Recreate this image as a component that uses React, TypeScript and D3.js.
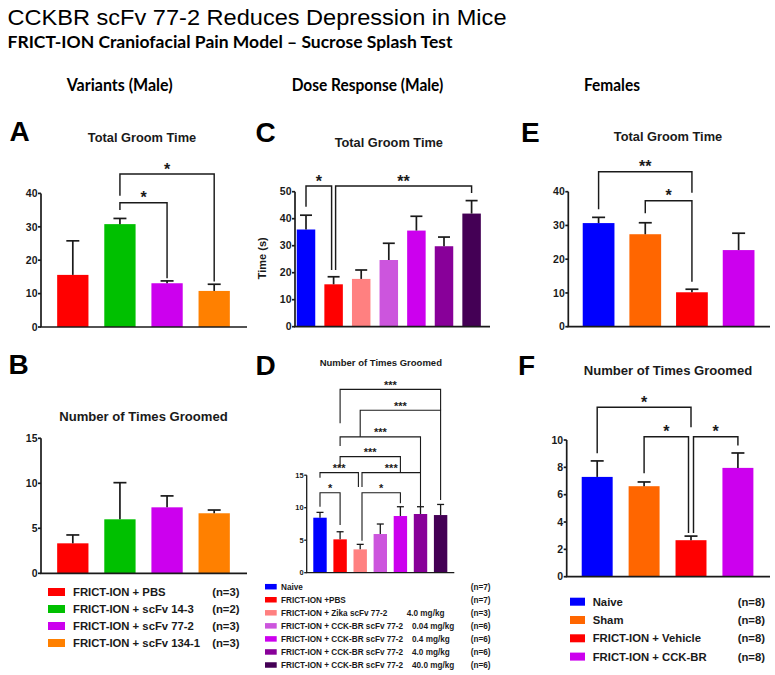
import React from "react";
import * as d3 from "d3";

// ---------------- Data ----------------
const variantGroups = ["FRICT-ION + PBS", "FRICT-ION + scFv 14-3", "FRICT-ION + scFv 77-2", "FRICT-ION + scFv 134-1"];
const variantN = ["(n=3)", "(n=2)", "(n=3)", "(n=3)"];
const variantColors = ["#ff0000", "#00c000", "#cc00ee", "#ff8000"];
const variantGroomTime = [15.6, 30.8, 13.1, 10.8];
const variantGroomTimeSem = [10.2, 1.7, 0.7, 2.0];
const variantGroomCount = [3.33, 6.0, 7.33, 6.67];
const variantGroomCountSem = [0.93, 4.07, 1.27, 0.36];

const doseGroups = [
  "Naive",
  "FRICT-ION +PBS",
  "FRICT-ION + Zika scFv 77-2",
  "FRICT-ION + CCK-BR scFv 77-2",
  "FRICT-ION + CCK-BR scFv 77-2",
  "FRICT-ION + CCK-BR scFv 77-2",
  "FRICT-ION + CCK-BR scFv 77-2",
];
const doseAmounts = ["", "", "4.0 mg/kg", "0.04 mg/kg", "0.4 mg/kg", "4.0 mg/kg", "40.0 mg/kg"];
const doseN = ["(n=7)", "(n=7)", "(n=3)", "(n=6)", "(n=6)", "(n=6)", "(n=6)"];
const doseColors = ["#0000ff", "#ff0000", "#ff8080", "#cc55dd", "#cc00ee", "#880099", "#440055"];
const doseGroomTime = [36.0, 15.7, 17.7, 24.7, 35.6, 29.8, 41.9];
const doseGroomTimeSem = [5.3, 2.8, 3.3, 6.2, 5.3, 3.4, 4.8];
const doseGroomCount = [8.46, 5.13, 3.59, 5.95, 8.72, 9.03, 8.87];
const doseGroomCountSem = [0.82, 1.17, 0.77, 1.54, 1.43, 1.12, 1.63];

const femaleGroups = ["Naive", "Sham", "FRICT-ION + Vehicle", "FRICT-ION + CCK-BR"];
const femaleN = ["(n=8)", "(n=8)", "(n=8)", "(n=8)"];
const femaleColors = ["#0000ff", "#ff6600", "#ff0000", "#cc00ee"];
const femaleGroomTime = [30.7, 27.4, 10.2, 22.7];
const femaleGroomTimeSem = [1.7, 3.4, 0.9, 5.0];
const femaleGroomCount = [7.3, 6.62, 2.67, 7.96];
const femaleGroomCountSem = [1.17, 0.31, 0.3, 1.09];

const ticksTime40 = [0, 10, 20, 30, 40];
const ticksTime50 = [0, 10, 20, 30, 40, 50];
const ticksCount15 = [0, 5, 10, 15];
const ticksCount10 = [0, 2, 4, 6, 8, 10];

// significance brackets: a/b = group index, y = bracket level (data units), ya/yb = leg ends
type Bracket = { a: number; b: number; y: number; ya: number; yb: number; label: string; da?: number; db?: number };
const bracketsA: Bracket[] = [
  { a: 1, b: 2, y: 37.2, ya: 35.0, yb: 14.6, label: "*" },
  { a: 1, b: 3, y: 45.8, ya: 39.3, yb: 13.6, label: "*" },
];
const bracketsC: Bracket[] = [
  { a: 0, b: 1, y: 52.1, ya: 44.4, yb: 21.0, label: "*", db: -2 },
  { a: 1, b: 6, y: 52.1, ya: 21.0, yb: 49.5, label: "**", da: 2 },
];
const bracketsD: Bracket[] = [
  { a: 0, b: 1, y: 12.3, ya: 10.15, yb: 7.34, label: "*" },
  { a: 0, b: 2, y: 15.4, ya: 14.6, yb: 13.2, label: "***", db: -1.8 },
  { a: 2, b: 4, y: 12.3, ya: 4.9, yb: 10.7, label: "*", da: 1.8 },
  { a: 2, b: 5, y: 15.4, ya: 13.2, yb: 10.15, label: "***", da: 1.8 },
  { a: 1, b: 4, y: 17.85, ya: 16.3, yb: 15.4, label: "***" },
  { a: 1, b: 5, y: 20.9, ya: 19.5, yb: 15.4, label: "***" },
  { a: 2, b: 6, y: 25.0, ya: 20.9, yb: 11.2, label: "***" },
  { a: 1, b: 6, y: 28.2, ya: 23.0, yb: 25.0, label: "***" },
];
const bracketsE: Bracket[] = [
  { a: 0, b: 2, y: 45.9, ya: 34.8, yb: 39.7, label: "**" },
  { a: 1, b: 2, y: 37.3, ya: 33.6, yb: 13.3, label: "*" },
];
const bracketsF: Bracket[] = [
  { a: 0, b: 2, y: 12.4, ya: 9.03, yb: 10.93, label: "*" },
  { a: 1, b: 2, y: 10.24, ya: 7.56, yb: 3.2, label: "*", db: -2.5 },
  { a: 2, b: 3, y: 10.24, ya: 3.2, yb: 9.6, label: "*", da: 2.5 },
];

// ---------------- Styling / layout ----------------
const FONT = "'Liberation Sans', Arial, Helvetica, sans-serif";
const HFONT = "Lato, 'Open Sans', sans-serif";
const INK = "#1a1a1a";

type PanelCfg = {
  values: number[];
  sems: number[];
  colors: string[];
  yDomain: [number, number];
  yRange: [number, number];
  ticks: number[];
  axisX: number;
  band: [number, number];
  pi: number;
  po: number;
  xEnd: number;
  brackets: Bracket[];
  tickFont: number;
  capW: number;
  sw: number;
  starFont: number;
  starDy: number;
  tickLen: number;
};

function Panel({ cfg }: { cfg: PanelCfg }) {
  const n = cfg.values.length;
  const x = d3
    .scaleBand<number>()
    .domain(d3.range(n))
    .range(cfg.band)
    .paddingInner(cfg.pi)
    .paddingOuter(cfg.po);
  const y = d3.scaleLinear().domain(cfg.yDomain).range(cfg.yRange);
  const cx = (i: number) => (x(i) as number) + x.bandwidth() / 2;
  const y0 = y(0);
  return (
    <g>
      {cfg.values.map((v, i) => (
        <rect key={"b" + i} x={x(i)} y={y(v)} width={x.bandwidth()} height={y0 - y(v)} fill={cfg.colors[i]} />
      ))}
      {cfg.values.map((v, i) => {
        const top = y(v + cfg.sems[i]);
        return (
          <g key={"e" + i} stroke={INK} strokeWidth={cfg.sw}>
            <line x1={cx(i)} x2={cx(i)} y1={y(v)} y2={top} />
            <line x1={cx(i) - cfg.capW / 2} x2={cx(i) + cfg.capW / 2} y1={top} y2={top} />
          </g>
        );
      })}
      {cfg.brackets.map((b, k) => {
        const xa = cx(b.a) + (b.da || 0);
        const xb = cx(b.b) + (b.db || 0);
        const yy = y(b.y);
        return (
          <g key={"k" + k}>
            <path
              d={`M${xa},${y(b.ya)}V${yy}H${xb}V${y(b.yb)}`}
              fill="none"
              stroke={INK}
              strokeWidth={cfg.sw * 0.85}
            />
            <text
              x={(xa + xb) / 2}
              y={yy + cfg.starDy}
              textAnchor="middle"
              fontFamily={FONT}
              fontWeight="bold"
              fontSize={cfg.starFont}
              fill={INK}
            >
              {b.label}
            </text>
          </g>
        );
      })}
      {/* y axis */}
      <line x1={cfg.axisX} x2={cfg.axisX} y1={y0} y2={y(cfg.ticks[cfg.ticks.length - 1])} stroke={INK} strokeWidth={cfg.sw} />
      {cfg.ticks.map((t) => (
        <g key={"t" + t}>
          <line x1={cfg.axisX - cfg.tickLen} x2={cfg.axisX} y1={y(t)} y2={y(t)} stroke={INK} strokeWidth={cfg.sw} />
          <text
            x={cfg.axisX - cfg.tickLen - 0.5}
            y={y(t) + cfg.tickFont * 0.36}
            textAnchor="end"
            fontFamily={FONT}
            fontWeight="bold"
            fontSize={cfg.tickFont}
            fill={INK}
          >
            {t}
          </text>
        </g>
      ))}
      {/* x axis */}
      <line x1={cfg.axisX - cfg.sw / 2} x2={cfg.xEnd} y1={y0} y2={y0} stroke={INK} strokeWidth={cfg.sw} />
    </g>
  );
}

function Legend({
  labels,
  colors,
  ns,
  doses,
  x0,
  y0,
  dy,
  sw,
  sh,
  textX,
  fontSize,
  nX,
  doseX,
}: {
  labels: string[];
  colors: string[];
  ns: string[];
  doses?: string[];
  x0: number;
  y0: number;
  dy: number;
  sw: number;
  sh: number;
  textX: number;
  fontSize: number;
  nX: number;
  doseX?: (i: number) => number;
}) {
  return (
    <g fontFamily={FONT} fontWeight="bold" fontSize={fontSize} fill={INK}>
      {labels.map((l, i) => {
        const yc = y0 + i * dy;
        const by = yc + fontSize * 0.36;
        return (
          <g key={i}>
            <rect x={x0} y={yc - sh / 2} width={sw} height={sh} fill={colors[i]} />
            <text x={textX} y={by}>
              {l}
            </text>
            {doses && doses[i] && doseX ? (
              <text x={doseX(i)} y={by}>
                {doses[i]}
              </text>
            ) : null}
            <text x={nX} y={by} textAnchor="end">
              {ns[i]}
            </text>
          </g>
        );
      })}
    </g>
  );
}

const big = { tickFont: 10.5, capW: 13, sw: 1.7, starFont: 16, starDy: 0.5, tickLen: 3 };

export default function App() {
  const panelA: PanelCfg = {
    ...big,
    values: variantGroomTime,
    sems: variantGroomTimeSem,
    colors: variantColors,
    yDomain: [0, 40],
    yRange: [327, 193.4],
    ticks: ticksTime40,
    axisX: 41,
    band: [41, 246],
    pi: 0.336,
    po: 0.343,
    xEnd: 247,
    brackets: bracketsA,
  };
  const panelB: PanelCfg = {
    ...big,
    values: variantGroomCount,
    sems: variantGroomCountSem,
    colors: variantColors,
    yDomain: [0, 15],
    yRange: [573.3, 438.3],
    ticks: ticksCount15,
    axisX: 41,
    band: [41, 246],
    pi: 0.336,
    po: 0.343,
    xEnd: 247,
    brackets: [],
  };
  const panelC: PanelCfg = {
    ...big,
    capW: 12,
    values: doseGroomTime,
    sems: doseGroomTimeSem,
    colors: doseColors,
    yDomain: [0, 50],
    yRange: [326.7, 191.7],
    ticks: ticksTime50,
    axisX: 295,
    band: [294, 483.6],
    pi: 0.33,
    po: 0.1,
    xEnd: 490,
    brackets: bracketsC,
  };
  const panelD: PanelCfg = {
    tickFont: 7.5,
    capW: 7,
    sw: 1.3,
    starFont: 11,
    starDy: -0.5,
    tickLen: 2.5,
    values: doseGroomCount,
    sems: doseGroomCountSem,
    colors: doseColors,
    yDomain: [0, 15],
    yRange: [572.7, 475.2],
    ticks: ticksCount15,
    axisX: 306.7,
    band: [306.7, 453.9],
    pi: 0.333,
    po: 0.328,
    xEnd: 454.3,
    brackets: bracketsD,
  };
  const panelE: PanelCfg = {
    ...big,
    values: femaleGroomTime,
    sems: femaleGroomTimeSem,
    colors: femaleColors,
    yDomain: [0, 40],
    yRange: [326.7, 191.7],
    ticks: ticksTime40,
    axisX: 568.3,
    band: [568.3, 768.9],
    pi: 0.32,
    po: 0.309,
    xEnd: 770,
    brackets: bracketsE,
  };
  const panelF: PanelCfg = {
    ...big,
    values: femaleGroomCount,
    sems: femaleGroomCountSem,
    colors: femaleColors,
    yDomain: [0, 10],
    yRange: [576.7, 440],
    ticks: ticksCount10,
    axisX: 566.7,
    band: [566.7, 768.4],
    pi: 0.34,
    po: 0.32,
    xEnd: 770,
    brackets: bracketsF,
  };

  const panelTitle = (x: number, y: number, t: string, fs: number) => (
    <text x={x} y={y} textAnchor="middle" fontFamily={FONT} fontWeight="bold" fontSize={fs} fill={INK}>
      {t}
    </text>
  );
  const letter = (x: number, y: number, t: string) => (
    <text x={x} y={y} fontFamily={FONT} fontWeight="bold" fontSize={28} fill="#000">
      {t}
    </text>
  );

  return (
    <svg
      width={775}
      height={675}
      viewBox="0 0 775 675"
      style={{ position: "absolute", left: 0, top: 0, background: "#fff", display: "block" }}
    >
      <rect x={0} y={0} width={775} height={675} fill="#fff" />
      <text x={7.5} y={25} fontFamily={FONT} fontSize={22} fill="#000" textLength={499} lengthAdjust="spacingAndGlyphs">
        CCKBR scFv 77-2 Reduces Depression in Mice
      </text>
      <text
        x={7.5}
        y={48}
        fontFamily={HFONT}
        fontWeight="bold"
        fontSize={17}
        fill="#000"
        textLength={445}
        lengthAdjust="spacingAndGlyphs"
      >
        FRICT-ION Craniofacial Pain Model – Sucrose Splash Test
      </text>
      <g fontFamily={HFONT} fontWeight="bold" fontSize={16.5} fill="#000" textAnchor="middle">
        <text x={119.7} y={91} textLength={106} lengthAdjust="spacingAndGlyphs">
          Variants (Male)
        </text>
        <text x={367.5} y={91} textLength={151.6} lengthAdjust="spacingAndGlyphs">
          Dose Response (Male)
        </text>
        <text x={612} y={91} textLength={56} lengthAdjust="spacingAndGlyphs">
          Females
        </text>
      </g>

      {letter(9.5, 141, "A")}
      {letter(8.5, 374, "B")}
      {letter(255.5, 142, "C")}
      {letter(255.5, 375, "D")}
      {letter(521, 142, "E")}
      {letter(518, 375, "F")}

      {panelTitle(142, 141.5, "Total Groom Time", 12.8)}
      {panelTitle(143.5, 420.5, "Number of Times Groomed", 13.1)}
      {panelTitle(388.8, 147, "Total Groom Time", 12.8)}
      {panelTitle(380.8, 366, "Number of Times Groomed", 9.5)}
      {panelTitle(668, 140.5, "Total Groom Time", 12.8)}
      {panelTitle(668, 375, "Number of Times Groomed", 13.1)}

      <Panel cfg={panelA} />
      <Panel cfg={panelB} />
      <Panel cfg={panelC} />
      <Panel cfg={panelD} />
      <Panel cfg={panelE} />
      <Panel cfg={panelF} />

      <text
        transform="translate(266,258.3) rotate(-90)"
        textAnchor="middle"
        fontFamily={FONT}
        fontWeight="bold"
        fontSize={11}
        fill={INK}
      >
        Time (s)
      </text>

      <Legend
        labels={variantGroups}
        colors={variantColors}
        ns={variantN}
        x0={48}
        y0={592}
        dy={17}
        sw={17}
        sh={8}
        textX={73}
        fontSize={11.3}
        nX={239.5}
      />
      <Legend
        labels={doseGroups}
        colors={doseColors}
        ns={doseN}
        doses={doseAmounts}
        x0={265}
        y0={586.7}
        dy={13.05}
        sw={11.7}
        sh={5.5}
        textX={281}
        fontSize={8.2}
        nX={490.5}
        doseX={(i) => (i === 2 ? 406.7 : 412)}
      />
      <Legend
        labels={femaleGroups}
        colors={femaleColors}
        ns={femaleN}
        x0={570}
        y0={601.7}
        dy={18.3}
        sw={15}
        sh={8}
        textX={592.7}
        fontSize={11.3}
        nX={765}
      />
    </svg>
  );
}
